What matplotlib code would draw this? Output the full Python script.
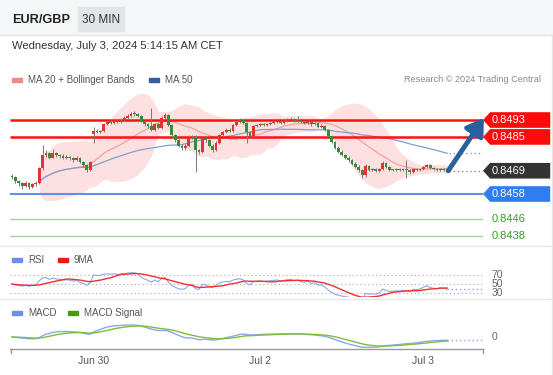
import matplotlib.pyplot as plt
import numpy as np
import pandas as pd
from matplotlib.patches import Polygon, Rectangle
from matplotlib.lines import Line2D

plt.rcParams['font.family'] = ['Liberation Sans', 'DejaVu Sans']

W, H = 553, 375

# prices in pips above 0.8400, one per 30 min bar
base = 0.8400
closes_pips = [
    66, 64, 63, 62, 63, 61.5, 62.5, 63,
    70.3, 76.4, 77.4, 75, 77.4, 76.4, 76, 75, 75.5, 75, 74, 75, 73, 71.7, 69.4, 73.1,
    88, 87.3, 87.8, 91, 92, 91.6, 92.5, 92, 93, 94, 95, 95.8, 95.8, 95, 92.5, 91, 90, 88.3, 91, 89.2, 94, 95.4,
    90.6, 85.9, 83.5, 80.7, 79.8, 80.7, 84.5, 85, 78.8, 77.8, 84.5, 83.5, 80.7, 78.8, 82.1, 85.9, 87.3, 88.3, 87.8, 90.6, 92, 93,
    91.6, 87.3, 85.4, 90, 90.6, 91, 90.6, 91, 91.6, 92, 92.5, 91.6, 92.5, 93, 93.5, 92.5, 93, 92, 91.6, 92.5, 91, 91.6,
    89.7, 90, 88.3, 85.4, 82.6, 79.8, 77.9, 76.4, 75, 74, 72.2, 70.8, 69.4, 67,
    71.2, 69.4, 69.8, 68.9, 69.8, 72.7, 70.8, 69.4, 69.4, 69.8, 69.4, 69.8, 69.4, 68.4, 69.8, 69.4, 69.8, 70.8, 71.7, 70.3, 69.8, 69.4, 69.8, 69.4, 69,
]
highs_pips = [
    67.5, 66.5, 64.8, 63.8, 64, 63.5, 63.2, 64,
    71, 81, 79, 78, 79.5, 78, 77, 76.8, 76.3, 76, 75.5, 75.8, 75.5, 73.8, 72.2, 73.8,
    89.5, 88.6, 88.5, 91.8, 93, 92.8, 93.2, 93, 93.8, 94.8, 96, 96.8, 97.2, 96.2, 95.5, 93.2, 91.8, 98.7, 91.8, 91.6, 94.8, 96.5,
    96, 91.2, 86.5, 84, 81.5, 81.5, 86, 86, 85.8, 79.5, 85.5, 85.2, 84, 81.5, 83, 86.5, 88, 89.2, 89, 91.2, 92.6, 93.8,
    93.6, 92, 88, 90.6, 91.2, 91.6, 91.4, 91.6, 92.2, 92.6, 93.2, 93, 93.2, 93.8, 94.4, 94, 94.8, 93.6, 92.6, 93, 93, 92.2,
    92.2, 91, 90.6, 88.8, 86, 83.2, 80.6, 78.6, 77, 75.8, 74.6, 73, 71.6, 70,
    72, 71.8, 70.4, 70.4, 70.4, 73.4, 73, 71.2, 70, 70.4, 70.2, 70.4, 74, 69.8, 70.4, 70.2, 70.4, 71.4, 72.4, 72, 70.8, 70.2, 70.4, 70.2, 69.8,
]
lows_pips = [
    65.2, 63.2, 61.8, 60.5, 61.5, 60.2, 60.8, 61.8,
    62.5, 69.5, 75.5, 74.5, 74.8, 75.6, 75.2, 74.4, 74.6, 74.2, 73.2, 73.5, 72.5, 70.8, 68.6, 68.9,
    82, 86.8, 86.8, 87.3, 90.6, 91, 91, 91.4, 91.6, 92.6, 93.6, 94.6, 95, 94.4, 92, 90.4, 89.4, 87.6, 87.8, 88.6, 88.8, 93.4,
    90, 85.2, 82.8, 80, 79, 79, 80, 84, 68.4, 77, 77.2, 82.8, 80, 78, 78.2, 81.6, 85.4, 86.8, 87.2, 87.4, 90, 91.5,
    91, 82, 84.8, 85, 89.6, 90, 90, 90.2, 90.6, 91.2, 91.6, 91, 91.2, 92, 92.6, 92, 92, 91.4, 91, 91.2, 90.4, 90.6,
    89.2, 89.2, 87.8, 84.8, 82, 79.2, 77.2, 75.8, 74.4, 73.2, 71.6, 70.2, 68.4, 65.6,
    66, 68.8, 68.8, 68.2, 68.4, 69.4, 70.2, 68.8, 68.8, 69, 68.8, 68.8, 65.6, 67.6, 68, 68.8, 69, 69.4, 70.2, 69.8, 69.2, 68.8, 69, 68.8, 68.6,
]
first_open = 66.5
gap_bar = 24          # sunday open after the weekend gap
gap_open = 86.5

resistances = [0.8493, 0.8485]
last_price = 0.8469
support_main = 0.8458
supports_minor = [0.8446, 0.8438]

date_ticks = [24, 73, 121]
date_labels = ['Jun 30', 'Jul 2', 'Jul 3']
rsi_levels = [70, 50, 30]
ind_start = 8

close = base + np.array(closes_pips) / 1e4
high = base + np.array(highs_pips) / 1e4
low = base + np.array(lows_pips) / 1e4
opn = np.r_[base + first_open / 1e4, close[:-1]]
opn[gap_bar] = base + gap_open / 1e4
n = len(close)
x = np.arange(n)

s = pd.Series(close)
ma20 = s.rolling(20, min_periods=ind_start).mean()
sd20 = s.rolling(20, min_periods=ind_start).std()
ma50 = s.rolling(50, min_periods=ind_start).mean()
ma20[:ind_start] = np.nan
ma50[:ind_start] = np.nan

# RSI (wilder), seeded neutral
d = s.diff().fillna(0)
up = d.clip(lower=0).copy()
dn = (-d.clip(upper=0)).copy()
up.iloc[0] = dn.iloc[0] = d.abs().mean()
rsi = 100 - 100 / (1 + up.ewm(alpha=1/14, adjust=False).mean() / dn.ewm(alpha=1/14, adjust=False).mean())
rsi_ma = rsi.rolling(9, min_periods=1).mean()

macd = s.ewm(span=12, adjust=False).mean() - s.ewm(span=26, adjust=False).mean()
signal = macd.ewm(span=9, adjust=False).mean()

fig = plt.figure(figsize=(W / 100, H / 100), dpi=100)
fig.patch.set_facecolor('white')

def fx(px):
    return px / W

def fy(py):
    return 1 - py / H

def add_ax(top, bottom):
    a = fig.add_axes([fx(10), fy(bottom), fx(473), (bottom - top) / H])
    a.set_xlim(-2 / 3.4, 471 / 3.4)
    a.axis('off')
    return a

# header
fig.add_artist(Rectangle((0, fy(35)), 1, 35 / H, transform=fig.transFigure, color='#f5f6f7', zorder=0))
fig.add_artist(Rectangle((fx(78), fy(31)), fx(46), 24 / H, transform=fig.transFigure, color='#e1e4e8', zorder=1))
fig.text(fx(12), fy(20), 'EUR/GBP', fontsize=9.2, fontweight='bold', color='#222222', va='center')
fig.text(fx(101), fy(20), '30 MIN', fontsize=8.5, color='#333333', va='center', ha='center')
fig.text(fx(12), fy(46), 'Wednesday, July 3, 2024 5:14:15 AM CET', fontsize=8.1, color='#333333', va='center')
for yy in [35, 246, 299]:
    fig.add_artist(Line2D([0, 1], [fy(yy), fy(yy)], transform=fig.transFigure, color='#e6e6e6', lw=1))
fig.add_artist(Line2D([fx(551.5)] * 2, [fy(35), fy(375)], transform=fig.transFigure, color='#e6e6e6', lw=1))

def legend_item(px, py, color, label):
    fig.add_artist(Rectangle((fx(px), fy(py + 2)), fx(10), 4 / H, transform=fig.transFigure, color=color))
    fig.text(fx(px + 16), fy(py), label, fontsize=7, color='#555555', va='center')

legend_item(12, 80, '#f08a8a', 'MA 20 + Bollinger Bands')
legend_item(149, 80, '#335f9c', 'MA 50')
fig.text(fx(541), fy(80), 'Research © 2024 Trading Central', fontsize=6.6, color='#8a8a8a', va='center', ha='right')
legend_item(12, 260, '#6d8fe8', 'RSI')
legend_item(58, 260, '#f01818', '9MA')
legend_item(12, 313, '#6d8fe8', 'MACD')
legend_item(68, 313, '#4a9a10', 'MACD Signal')

# main price panel
ax = add_ax(92, 245)
ax.set_ylim(0.843388, 0.850625)
ax.fill_between(x, ma20 - 2 * sd20, ma20 + 2 * sd20, color='#fde0e0', lw=0, zorder=1)
ax.plot(x, ma20, color='#f5a0a0', lw=0.9, zorder=2)
ax.plot(x, ma50, color='#7f9fd0', lw=0.9, zorder=2)

xr = ax.get_xlim()[1]
for lv in resistances:
    ax.plot([ax.get_xlim()[0], xr], [lv, lv], color='#ff1010', lw=1.8, zorder=3, solid_capstyle='butt')
ax.plot([ax.get_xlim()[0], xr], [support_main] * 2, color='#5b8ff0', lw=1.5, zorder=3)
for lv in supports_minor:
    ax.plot([ax.get_xlim()[0], xr], [lv, lv], color='#a5d49a', lw=1.0, zorder=3)

col = np.where(close >= opn, '#e8302c', '#3a8a3a')
ax.vlines(x, low, high, color='#7a7a7a', lw=0.7, zorder=4)
body = np.maximum(np.abs(close - opn), 0.00004)
ax.bar(x, body, bottom=np.minimum(close, opn), width=0.8, color=col, zorder=5, lw=0)

ax.plot([n - 0.5, xr], [last_price] * 2, color='#888888', lw=1, ls=(0, (1, 2)), zorder=3)
ax.plot([n - 0.5, xr], [ma50.iloc[-1]] * 2, color='#7f9fd0', lw=1, ls=(0, (1, 2)), zorder=3)

ax.annotate('', xy=(138.8, 0.84940), xytext=(128.3, 0.84690),
            arrowprops=dict(arrowstyle='-|>,head_length=0.7,head_width=0.45', color='#2c5f9e',
                            lw=3.5, shrinkA=0, shrinkB=0, mutation_scale=14),
            annotation_clip=False, zorder=8)

def tag(price, color):
    h = 0.00037
    pts = [(xr, price), (xr + 2.1, price + h), (158.3, price + h), (158.3, price - h), (xr + 2.1, price - h)]
    ax.add_patch(Polygon(pts, closed=True, color=color, clip_on=False, zorder=9, lw=0))
    ax.text(xr + 2.6, price, f'{price:.4f}', color='white', fontsize=8, va='center', ha='left', clip_on=False, zorder=10)

tag(resistances[0], '#ff0a0a')
tag(resistances[1], '#ff0a0a')
tag(last_price, '#333333')
tag(support_main, '#2f7df0')
for lv in supports_minor:
    ax.text(xr + 2.6, lv, f'{lv:.4f}', color='#3a9a2a', fontsize=8, va='center', ha='left', clip_on=False)

# RSI panel
ar = add_ax(266, 297)
ar.set_ylim(21.1, 90)
for lv in rsi_levels:
    ar.plot(ar.get_xlim(), [lv, lv], color='#aaaaaa', lw=0.8, ls=(0, (1, 2.5)))
    ar.text(xr + 2.6, lv, str(lv), fontsize=7.5, color='#666666', va='center', ha='left', clip_on=False)
ar.plot(x, rsi, color='#8aa6ee', lw=0.8)
ar.plot(x, rsi_ma, color='#f03030', lw=1.0)
ar.plot([n - 1, xr], [rsi.iloc[-1]] * 2, color='#8aa6ee', lw=1, ls=(0, (1, 2)))

# MACD panel
am = add_ax(318, 348)
sc = macd.max() / 12
am.set_ylim(-11 * sc, 19 * sc)
am.plot(x, macd, color='#8aa6ee', lw=1.0)
am.plot(x, signal, color='#7cbf3a', lw=1.0)
am.plot([n - 1, xr], [macd.iloc[-1]] * 2, color='#8aa6ee', lw=1, ls=(0, (1, 2)))
am.text(xr + 2.6, 0, '0', fontsize=7.5, color='#666666', va='center', ha='left', clip_on=False)

# time axis
fig.add_artist(Line2D([fx(10), fx(483)], [fy(348.5)] * 2, transform=fig.transFigure, color='#999999', lw=1))
for xe in [10.5, 482.5]:
    fig.add_artist(Line2D([fx(xe)] * 2, [fy(348.5), fy(353)], transform=fig.transFigure, color='#999999', lw=1))
for t, lab in zip(date_ticks, date_labels):
    fig.text(fx(12 + 3.4 * t), fy(361), lab, fontsize=7.5, color='#555555', ha='center', va='center')

fig.savefig('out.png', dpi=100)
